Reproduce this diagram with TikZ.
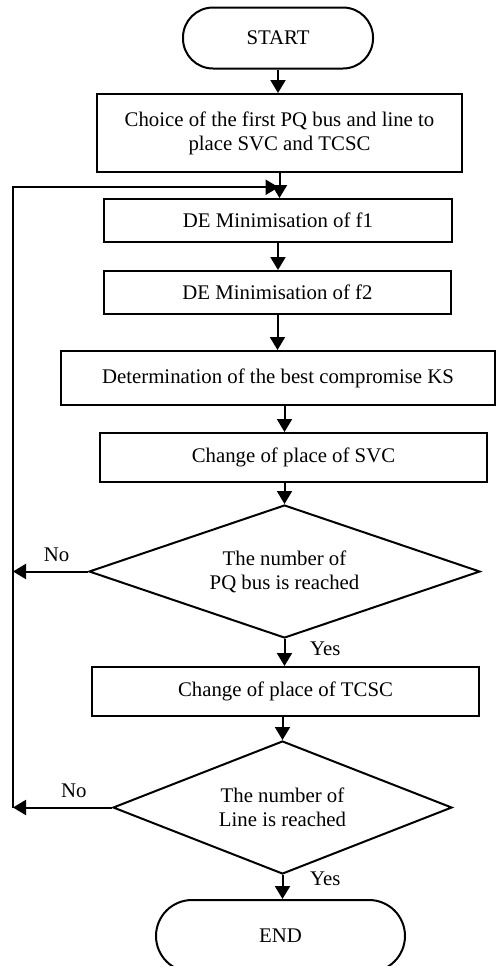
\documentclass[tikz,border=0pt]{standalone}
\usepackage{fontspec}
\setmainfont{Liberation Serif}
\usetikzlibrary{positioning, shapes.geometric, arrows.meta, calc}

\begin{document}
\begin{tikzpicture}[
  x=0.5pt, y=-0.5pt,
  >={Triangle[length=6.5pt, width=7.5pt]},
  every node/.style={font=\fontsize{10.4}{12}\selectfont},
  stepbox/.style={draw, line width=1pt, inner sep=2pt, align=center},
  term/.style={draw, line width=1pt, rounded corners=15pt, minimum width=95pt, minimum height=30.5pt},
  decision/.style={draw, diamond, line width=1pt, inner sep=0pt, align=center},
  flow/.style={->, line width=1pt}
]
\useasboundingbox (0,0) rectangle (496,966);

% Start and first choice
\node[term] (start) at (278,38) {START};
\node[stepbox, minimum width=182.5pt, minimum height=39pt] (choice) at (279.5,133) {Choice of the first PQ bus and line to\\place SVC and TCSC};

% DE minimisations
\node[stepbox, minimum width=174pt, minimum height=21.5pt] (de1) at (278,220.5) {DE Minimisation of f1};
\node[stepbox, minimum width=173.5pt, minimum height=21.5pt] (de2) at (277.5,292.5) {DE Minimisation of f2};
\node[stepbox, minimum width=217pt, minimum height=27pt] (ks) at (278,378) {Determination of the best compromise KS};

% SVC loop
\node[stepbox, minimum width=193.5pt, minimum height=24.5pt] (svc) at (293.5,457.5) {Change of place of SVC};
\node[decision, aspect=2.94, minimum width=195.5pt, minimum height=66.5pt] (busq) at (284.5,571.5) {The number of\\PQ bus is reached};

% TCSC loop
\node[stepbox, minimum width=193.5pt, minimum height=24.5pt] (tcsc) at (285.5,691.5) {Change of place of TCSC};
\node[decision, aspect=2.55, minimum width=169.5pt, minimum height=66.5pt] (lineq) at (282.5,807.5) {The number of\\Line is reached};

\node[term, minimum width=124.5pt, minimum height=36pt, rounded corners=18pt] (end) at (280.5,936) {END};

% Return rail on the left
\coordinate (join) at ($(choice.south)!0.57!(de1.north)$);
\coordinate (rail) at (13,0 |- join);

% Main arrows
\draw[flow] (start.south) -- (start.south |- choice.north);
\draw[flow] (choice.south) -- (choice.south |- de1.north);
\draw[flow] (de1.south) -- (de1.south |- de2.north);
\draw[flow] (de2.south) -- (de2.south |- ks.north);
\draw[flow] (ks.south -| busq.north) -- (busq.north |- svc.north);
\draw[flow] (svc.south -| busq.north) -- (busq.north);
\draw[flow] (busq.south) -- (busq.south |- tcsc.north) node[pos=0.38, right=9pt] {Yes};
\draw[flow] (tcsc.south -| lineq.north) -- (lineq.north);
\draw[flow] (lineq.south) -- (lineq.south |- end.north) node[pos=0.15, right=10pt] {Yes};

% No branches back to the rail
\draw[flow] (busq.west) -- (busq.west -| rail) node[pos=0.42, above=1pt] {No};
\draw[flow] (lineq.west) -- (lineq.west -| rail) node[pos=0.385, above=1pt] {No};
\draw[flow] (lineq.west -| rail) -- (rail) -- (join);

\end{tikzpicture}
\end{document}
